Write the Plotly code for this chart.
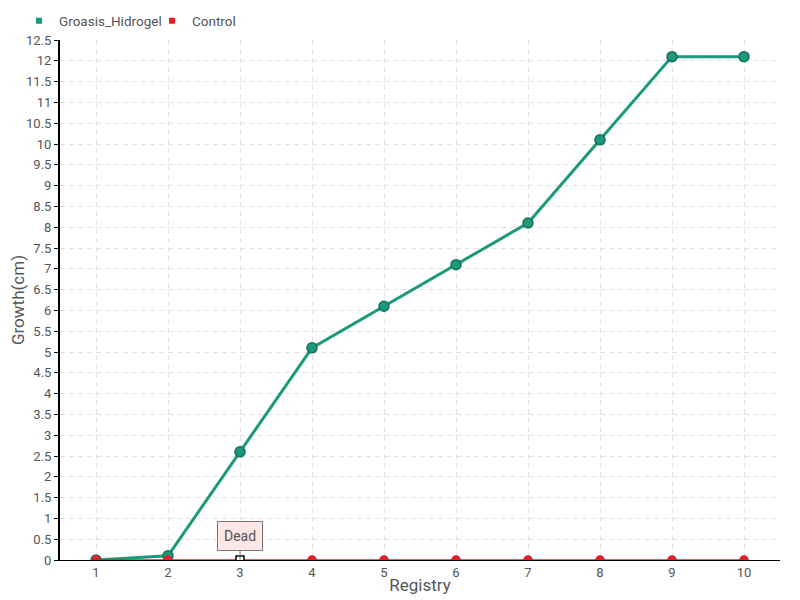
import plotly.graph_objects as go

# datos
registro = [1, 2, 3, 4, 5, 6, 7, 8, 9, 10]
groasis_hidrogel = [0, 0.1, 2.6, 5.1, 6.1, 7.1, 8.1, 10.1, 12.1, 12.1]
control = [0, 0, 0, 0, 0, 0, 0, 0, 0, 0]
control_relleno = ["#ee1c25", "#ee1c25", "#ffffff", "#ee1c25", "#ee1c25",
                   "#ee1c25", "#ee1c25", "#ee1c25", "#ee1c25", "#ee1c25"]
control_borde = ["#d8222a", "#d8222a", "#000000", "#d8222a", "#d8222a",
                 "#d8222a", "#d8222a", "#d8222a", "#d8222a", "#d8222a"]
control_simbolo = ["circle", "circle", "square", "circle", "circle",
                   "circle", "circle", "circle", "circle", "circle"]
y_ticks = [i * 0.5 for i in range(26)]
y_labels = [("%g" % v) for v in y_ticks]

fuente = "Roboto, sans-serif"

fig = go.Figure()

fig.add_trace(go.Scatter(
    x=registro, y=groasis_hidrogel, name="Groasis_Hidrogel",
    mode="lines+markers", showlegend=False,
    line=dict(color="#1a9a7a", width=3),
    marker=dict(size=10, color="#1a9a7a", line=dict(color="#16705a", width=1.5)),
))

fig.add_trace(go.Scatter(
    x=registro, y=control, name="Control",
    mode="lines+markers", showlegend=False,
    line=dict(color="#ee1c25", width=1.5),
    marker=dict(size=8, color=control_relleno, symbol=control_simbolo,
                line=dict(color=control_borde, width=1.5)),
))

# leyenda con cuadrados (una leyenda por serie para acercarlas)
fig.add_trace(go.Scatter(
    x=[None], y=[None], name="Groasis_Hidrogel", mode="markers", legend="legend",
    marker=dict(symbol="square", size=6, color="#1a9a7a"),
))
fig.add_trace(go.Scatter(
    x=[None], y=[None], name="Control", mode="markers", legend="legend2",
    marker=dict(symbol="square", size=6, color="#ee1c25"),
))

fig.add_annotation(
    x=3, y=0, text="Dead", showarrow=True, arrowhead=0, arrowwidth=1,
    arrowcolor="#777777", ax=0, ay=-24,
    bgcolor="#fde6e6", bordercolor="#777777", borderwidth=1, borderpad=6,
    font=dict(family=fuente, size=14, color="#555555"),
)

# la página deja 8px de margen en el body
leyenda_comun = dict(orientation="h", yanchor="middle", xanchor="left",
                     xref="container", yref="container", font=dict(size=13.5),
                     itemwidth=30, bgcolor="rgba(0,0,0,0)")
fig.update_layout(
    width=800, height=600,
    margin=dict(l=52, r=28, t=32, b=48, autoexpand=False),
    plot_bgcolor="white", paper_bgcolor="white",
    font=dict(family=fuente, size=14, color="#555555"),
    legend=dict(leyenda_comun, x=11 / 800, y=1 - 13 / 600),
    legend2=dict(leyenda_comun, x=144 / 800, y=1 - 13 / 600),
)

fig.update_xaxes(
    range=[0.5, 10.5], tickvals=registro, ticktext=[str(r) for r in registro],
    showgrid=True, gridcolor="#e2e2e2", griddash="5px,4px",
    showline=True, linecolor="black", linewidth=1,
    ticks="", ticklabelstandoff=0, tickfont=dict(size=13),
    title=dict(text="Registry", standoff=0), zeroline=False, automargin=False,
)
fig.update_yaxes(
    range=[0, 12.5], tickvals=y_ticks, ticktext=y_labels,
    showgrid=True, gridcolor="#e2e2e2", griddash="5px,4px",
    showline=True, linecolor="black", linewidth=2,
    ticks="outside", ticklen=4, tickcolor="black", tickfont=dict(size=13),
    title=dict(text="Growth(cm)", standoff=0), zeroline=False, automargin=False,
)

fig.write_html("out.html")
